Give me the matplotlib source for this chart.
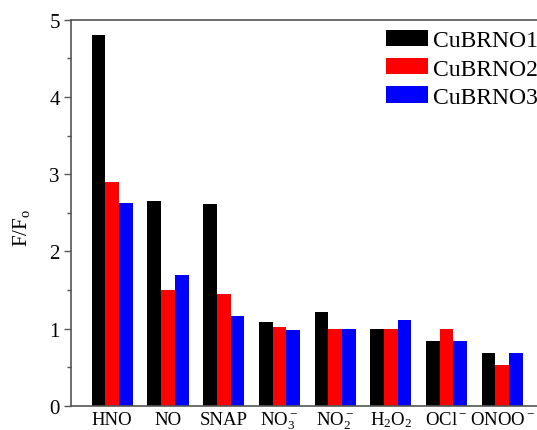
import numpy as np
import matplotlib.pyplot as plt

plt.rcParams['font.family'] = ['Liberation Serif', 'DejaVu Serif']
plt.rcParams['mathtext.fontset'] = 'custom'
plt.rcParams['mathtext.rm'] = 'Liberation Serif'
plt.rcParams['mathtext.it'] = 'Liberation Serif'
plt.rcParams['mathtext.default'] = 'regular'

# DATA

analytes = ["HNO", "NO", "SNAP", r"NO$_3^-$", r"NO$_2^-$", r"H$_2$O$_2$", r"OCl$^-$", r"ONOO$^-$"]
cubrno1 = [4.80, 2.65, 2.61, 1.09, 1.22, 1.00, 0.84, 0.68]
cubrno2 = [2.90, 1.50, 1.45, 1.02, 1.00, 1.00, 1.00, 0.53]
cubrno3 = [2.63, 1.69, 1.17, 0.98, 1.00, 1.11, 0.84, 0.69]

series = [("CuBRNO1", cubrno1, "black"),
          ("CuBRNO2", cubrno2, "#ff0000"),
          ("CuBRNO3", cubrno3, "#0000ff")]

# FIGURE

W, H = 537, 431
fig = plt.figure(figsize=(W / 100, H / 100), dpi=100)
# axes runs past the right edge of the canvas
ax = fig.add_axes([71 / W, 24 / H, 477 / W, 386.3 / H])

x = np.arange(len(analytes))
w = 0.246
for i, (name, vals, col) in enumerate(series):
    ax.bar(x + (i - 1) * w, vals, width=w, color=col, label=name)

ax.set_xlim(-0.74, 7.82)
ax.set_ylim(0, 5)
ax.set_xticks(x)
ax.set_xticklabels(analytes, fontsize=13.5)
for lbl in ax.get_xticklabels():
    lbl.set_verticalalignment('baseline')
ax.set_yticks([0, 1, 2, 3, 4, 5])
ax.set_yticks(np.arange(0.5, 5, 1), minor=True)
ax.tick_params(axis='y', which='major', length=5, width=1, direction='out',
               labelsize=15, color='#555555', pad=3)
ax.tick_params(axis='y', which='minor', length=3, width=1, direction='out', color='#555555')
ax.tick_params(axis='x', length=0, pad=13)

for s in ax.spines.values():
    s.set_color('#555555')
    s.set_linewidth(1.2)

ax.set_ylabel(r"F/F$_\mathregular{o}$", fontsize=15)
ax.yaxis.set_label_coords(-0.082, 0.463)

ax.legend(loc='upper left', bbox_to_anchor=(386 / W, 1 - 31 / H), bbox_transform=fig.transFigure,
          frameon=False, fontsize=17, handlelength=1.78, handleheight=0.68,
          handletextpad=0.2, labelspacing=0.29, borderaxespad=0, borderpad=0)

fig.savefig("out.png", dpi=100)
